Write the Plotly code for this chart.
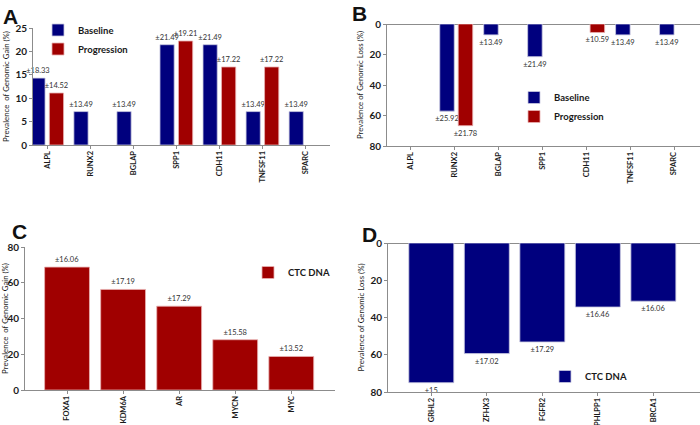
import plotly.graph_objects as go

# ---------------- data ----------------
genes_ab = ["ALPL", "RUNX2", "BGLAP", "SPP1", "CDH11", "TNFSF11", "SPARC"]
gain_baseline = [14.29, 7.14, 7.14, 21.43, 21.43, 7.14, 7.14]
gain_baseline_err = ["±18.33", "±13.49", "±13.49", "±21.49", "±21.49", "±13.49", "±13.49"]
gain_progression = [11.11, None, None, 22.22, 16.67, 16.67, None]
gain_progression_err = ["±14.52", "", "", "±19.21", "±17.22", "±17.22", ""]

loss_baseline = [None, 57.14, 7.14, 21.43, None, 7.14, 7.14]
loss_baseline_err = ["", "±25.92", "±13.49", "±21.49", "", "±13.49", "±13.49"]
loss_progression = [None, 66.67, None, None, 5.56, None, None]
loss_progression_err = ["", "±21.78", "", "", "±10.59", "", ""]

genes_c = ["FOXA1", "KDM6A", "AR", "MYCN", "MYC"]
ctc_gain = [68.75, 56.25, 46.88, 28.13, 18.75]
ctc_gain_err = ["±16.06", "±17.19", "±17.29", "±15.58", "±13.52"]

genes_d = ["GRHL2", "ZFHX3", "FGFR2", "PHLPP1", "BRCA1"]
ctc_loss = [75.0, 59.38, 53.13, 34.38, 31.25]
ctc_loss_err = ["±15", "±17.02", "±17.29", "±16.46", "±16.06"]

# ---------------- style ----------------
NAVY = "#00007E"
RED = "#A00000"
AXC = "#8c8c8c"
TXT = "#1a1a1a"
LBL_FONT = dict(family="Lato, Open Sans, sans-serif", size=7.5, color="#333333")
TICK_FONT = dict(family="Lato, Open Sans, sans-serif", size=7.5, color=TXT, weight="bold")
YTICK_FONT = dict(family="Lato, Open Sans, sans-serif", size=10, color=TXT, weight="bold")
TITLE_FONT = dict(family="Lato, Open Sans, sans-serif", size=7.8, color=TXT)
LEG_FONT = dict(family="Lato, Open Sans, sans-serif", size=9.5, color=TXT, weight="bold")

fig = go.Figure()


def bar(x, y, text, color, xa, ya, name, legend, width, offset=None):
    kw = dict(
        x=x, y=y, text=text, name=name,
        marker=dict(color=color, line=dict(color="#c8c8e0" if color == NAVY else "#e8b0b0", width=0.8)),
        textposition="outside", textfont=LBL_FONT, cliponaxis=False,
        constraintext="none", xaxis=xa, yaxis=ya, legend=legend,
        width=width, hoverinfo="skip",
    )
    if offset is not None:
        kw["offset"] = offset
    fig.add_trace(go.Bar(**kw))


# Panel A
bar(genes_ab, gain_baseline, gain_baseline_err, NAVY, "x", "y", "Baseline", "legend", 0.33, -0.38)
bar(genes_ab, gain_progression, gain_progression_err, RED, "x", "y", "Progression", "legend", 0.33, 0.05)
# Panel B
bar(genes_ab, loss_baseline, loss_baseline_err, NAVY, "x2", "y2", "Baseline", "legend2", 0.33, -0.33)
bar(genes_ab, loss_progression, loss_progression_err, RED, "x2", "y2", "Progression", "legend2", 0.33, 0.09)
# Panel C
bar(genes_c, ctc_gain, ctc_gain_err, RED, "x3", "y3", "CTC DNA", "legend3", 0.8)
# Panel D
bar(genes_d, ctc_loss, ctc_loss_err, NAVY, "x4", "y4", "CTC DNA", "legend4", 0.81)

H = 425.0
W = 700.0


def px(a, b):
    return [a / W, b / W]


def py(top, bottom):
    return [1 - bottom / H, 1 - top / H]


xcommon = dict(
    type="category", showline=True, linecolor=AXC, linewidth=1, ticks="outside",
    ticklen=3, tickcolor=AXC, tickangle=-90, tickfont=TICK_FONT, showgrid=False,
    zeroline=False, fixedrange=True, automargin=False, ticklabelstandoff=-1,
)
ycommon = dict(
    showline=True, linecolor=AXC, linewidth=1, ticks="outside", ticklen=3,
    tickcolor=AXC, tickfont=YTICK_FONT, showgrid=False, zeroline=True,
    zerolinecolor=AXC, zerolinewidth=1, title_font=TITLE_FONT, title_standoff=4,
    fixedrange=True, automargin=False,
)

legcommon = dict(xanchor="left", yanchor="top", font=LEG_FONT,
                 bgcolor="rgba(0,0,0,0)", tracegroupgap=0, itemwidth=30)

fig.update_layout(
    width=700, height=425,
    margin=dict(l=0, r=0, t=0, b=0, autoexpand=False),
    paper_bgcolor="white", plot_bgcolor="white",
    barmode="overlay",
    font=dict(family="Lato, sans-serif", color=TXT),
    xaxis=dict(xcommon, domain=px(33, 330), anchor="y", range=[-0.33, 6.57]),
    yaxis=dict(ycommon, domain=py(28, 145), anchor="x", range=[0, 25], dtick=5,
               title_text="Prevalence  of Genomic Gain (%)"),
    xaxis2=dict(xcommon, domain=px(387, 700), anchor="y2", range=[-0.53, 6.59]),
    yaxis2=dict(ycommon, domain=py(24, 146), anchor="x2", range=[80, 0], dtick=20,
                title_text="Prevalence of Genomic Loss (%)"),
    xaxis3=dict(xcommon, domain=px(25, 335), anchor="y3", range=[-0.75, 4.78]),
    yaxis3=dict(ycommon, domain=py(247, 390), anchor="x3", range=[0, 80], dtick=20,
                title_text="Prevalence  of Genomic Gain (%)"),
    xaxis4=dict(xcommon, domain=px(388, 700), anchor="y4", range=[-0.78, 4.84]),
    yaxis4=dict(ycommon, domain=py(243, 392), anchor="x4", range=[80, 0], dtick=20,
                title_text="Prevalence of Genomic Loss (%)"),
    legend=dict(legcommon, x=38 / W, y=1 - 15.5 / H),
    legend2=dict(legcommon, x=514 / W, y=1 - 83 / H),
    legend3=dict(legcommon, x=248 / W, y=1 - 258 / H),
    legend4=dict(legcommon, x=545 / W, y=1 - 362 / H),
)

letters = [("A", 1, 3), ("B", 350, 0), ("C", 10, 218), ("D", 360, 221)]
for t, lx, ly in letters:
    fig.add_annotation(
        text="<b>%s</b>" % t, xref="paper", yref="paper", x=lx / W, y=1 - ly / H,
        xanchor="left", yanchor="top", showarrow=False,
        font=dict(family="Liberation Sans, Arial, sans-serif", size=21, color="#111111"),
    )

fig.write_html(
    "out.html",
    config={"displayModeBar": False, "staticPlot": True},
    post_script="document.body.style.margin='0';document.body.style.padding='0';document.body.style.overflow='hidden';",
)
